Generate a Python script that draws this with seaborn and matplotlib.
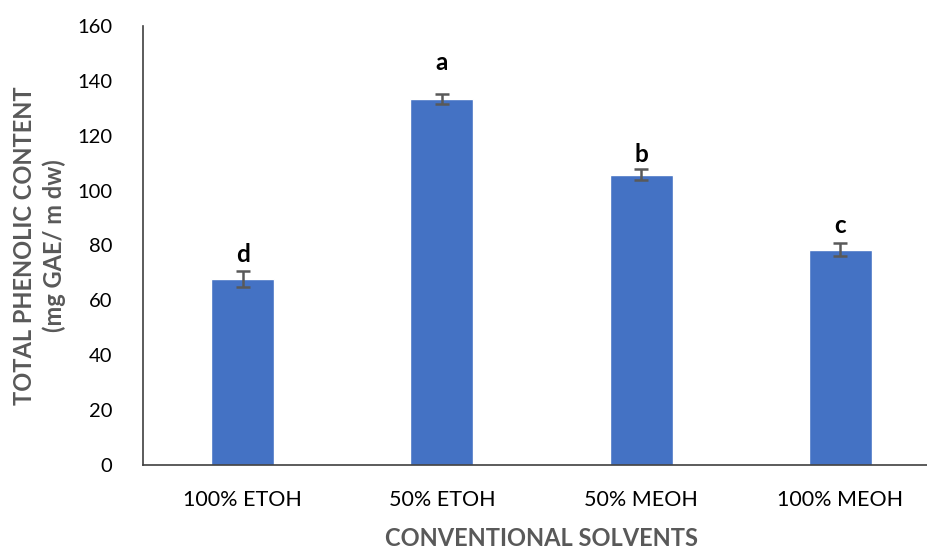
import matplotlib
matplotlib.use("Agg")
import matplotlib.pyplot as plt
import seaborn as sns
import pandas as pd

solvents = ["100% ETOH", "50% ETOH", "50% MEOH", "100% MEOH"]
phenolic = [67.8, 133.4, 105.7, 78.4]
errors = [3.0, 1.8, 2.0, 2.4]
letters = ["d", "a", "b", "c"]
# gap between error-bar top and letter baseline, in data units
letter_gap = [3.3, 8.7, 2.9, 3.6]

df = pd.DataFrame({"solvent": solvents, "tpc": phenolic})

sns.set_theme(style="white")
plt.rcParams["font.family"] = ["Lato", "DejaVu Sans"]

fig = plt.figure(figsize=(9.27, 5.5), dpi=100)
ax = fig.add_axes([143 / 927, (550 - 465) / 550, (940 - 143) / 927, (465 - 26) / 550])

sns.barplot(data=df, x="solvent", y="tpc", color="#4472C4", width=0.315,
            errorbar=None, saturation=1, ax=ax)
ax.errorbar(range(len(solvents)), phenolic, yerr=errors, fmt="none",
            ecolor="#595959", elinewidth=1.8, capsize=5, capthick=1.8)

for i, (v, e, t, g) in enumerate(zip(phenolic, errors, letters, letter_gap)):
    ax.text(i, v + e + g, t, ha="center", va="baseline", fontsize=17.5,
            fontweight="bold", color="black")

ax.set_xlim(-0.5, 3.5)
ax.set_ylim(0, 160)
ax.set_yticks(range(0, 161, 20))
ax.tick_params(axis="y", length=0, labelsize=14.5, colors="black", pad=22)
ax.tick_params(axis="x", length=0, labelsize=15.5, colors="black", pad=18)

for side in ["top", "right"]:
    ax.spines[side].set_visible(False)
for side in ["left", "bottom"]:
    ax.spines[side].set_color("#404040")
    ax.spines[side].set_linewidth(1.2)

ax.set_xlabel("CONVENTIONAL SOLVENTS", fontsize=17, fontweight="bold",
              color="#595959", labelpad=12)
ax.set_ylabel("TOTAL PHENOLIC CONTENT\n(mg GAE/ m dw)", fontsize=17,
              fontweight="bold", color="#595959", labelpad=8, linespacing=1.35)

fig.savefig("out.png", dpi=100)
